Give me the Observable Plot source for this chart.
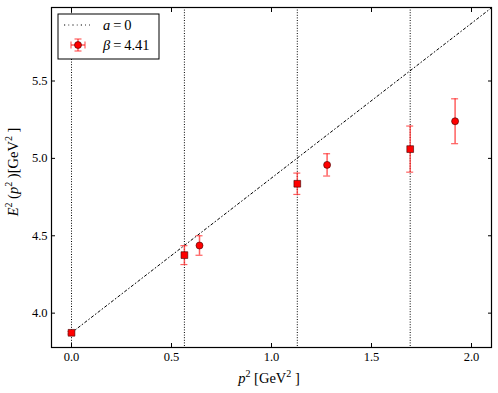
<!DOCTYPE html>
<html>
<head>
<meta charset="utf-8">
<script src="https://cdn.jsdelivr.net/npm/d3@7"></script>
<script src="https://cdn.jsdelivr.net/npm/@observablehq/plot@0.6"></script>
<style>
  html, body { margin: 0; padding: 0; background: #fff; }
  #chart { position: relative; width: 498px; height: 393px; }
</style>
</head>
<body>
<div id="chart"></div>
<script>
// Square markers (on the dotted vertical lines)
const squareP2 = [0, 0.5645, 1.129, 1.6935];
const squareE2 = [3.873, 4.375, 4.836, 5.060];
const squareErr = [0.008, 0.061, 0.069, 0.149];
// Circle markers
const circleP2 = [0.640, 1.278, 1.918];
const circleE2 = [4.437, 4.958, 5.240];
const circleErr = [0.063, 0.072, 0.145];
// Vertical dotted lines
const vLines = [0, 0.5645, 1.129, 1.6935];
// a=0 line (dash-dot) endpoints
const lineP2 = [0, 2.1];
const lineE2 = [3.873, 5.973];
// Ticks
const xTicks = [0.0, 0.5, 1.0, 1.5, 2.0];
const yTicks = [4.0, 4.5, 5.0, 5.5];

const squares = squareP2.map((x, i) => ({x, y: squareE2[i], e: squareErr[i]}));
const circles = circleP2.map((x, i) => ({x, y: circleE2[i], e: circleErr[i]}));
const allPts = squares.concat(circles);
const line = lineP2.map((x, i) => ({x, y: lineE2[i]}));

// font detection
function hasFont(name) {
  const c = document.createElement("canvas").getContext("2d");
  const s = "0123456789.abcEGpV";
  c.font = "40px monospace"; const w0 = c.measureText(s).width;
  c.font = `40px '${name}', monospace`; const w1 = c.measureText(s).width;
  return Math.abs(w0 - w1) > 0.5;
}
const useLib = hasFont("Liberation Serif");
const fam = useLib ? "'Liberation Serif', 'DejaVu Serif', serif" : "'DejaVu Serif', serif";
const fs = useLib ? 12.5 : 10.5;   // tick labels
const lfs = useLib ? 14.5 : 12.5;  // axis labels & legend
const sfs = useLib ? 10 : 8.5;     // superscripts

const errColor = "#ff2a2a";
const fmt = d3.format(".1f");

const chart = Plot.plot({
  width: 498,
  height: 393,
  marginLeft: 51,
  marginRight: 7,
  marginTop: 7,
  marginBottom: 46,
  style: {fontFamily: fam, fontSize: fs + "px", color: "#000", background: "#fff"},
  x: {domain: [-0.1, 2.1], label: null},
  y: {domain: [3.778, 5.975], label: null},
  marks: [
    Plot.ruleX(vLines, {x: d => d, stroke: "#000", strokeWidth: 1, strokeDasharray: "1,1.6", clip: true}),
    Plot.line(line, {x: "x", y: "y", stroke: "#000", strokeWidth: 1, strokeDasharray: "2.4,2.6,0.8,2.6", clip: true}),
    // error bars
    Plot.ruleX(allPts, {x: "x", y1: d => d.y - d.e, y2: d => d.y + d.e, stroke: errColor, strokeOpacity: 0.75, strokeWidth: 1.5}),
    Plot.ruleY(allPts, {y: d => d.y + d.e, x1: "x", x2: "x", insetLeft: -3.5, insetRight: -3.5, stroke: errColor, strokeOpacity: 0.75, strokeWidth: 1.2}),
    Plot.ruleY(allPts, {y: d => d.y - d.e, x1: "x", x2: "x", insetLeft: -3.5, insetRight: -3.5, stroke: errColor, strokeOpacity: 0.75, strokeWidth: 1.2}),
    Plot.dot(squares, {x: "x", y: "y", symbol: "square", r: 3.8, fill: "#ff0000", stroke: "#3a0000", strokeWidth: 0.6}),
    Plot.dot(circles, {x: "x", y: "y", symbol: "circle", r: 3.5, fill: "#ff0000", stroke: "#3a0000", strokeWidth: 0.6}),
    // axes: inward ticks on all sides
    Plot.axisX(xTicks, {anchor: "bottom", tickSize: -4, text: null, label: null}),
    Plot.axisX(xTicks, {anchor: "bottom", tickSize: 0, tickPadding: 5, tickFormat: fmt, label: null}),
    Plot.axisX(xTicks, {anchor: "top", tickSize: -4, text: null, label: null}),
    Plot.axisY(yTicks, {anchor: "left", tickSize: -4, text: null, label: null}),
    Plot.axisY(yTicks, {anchor: "left", tickSize: 0, tickPadding: 4, tickFormat: fmt, label: null}),
    Plot.axisY(yTicks, {anchor: "right", tickSize: -4, text: null, label: null}),
    Plot.frame({stroke: "#000", strokeWidth: 1.2})
  ]
});

document.getElementById("chart").appendChild(chart);

const svg = d3.select(chart);

function sup(t, s) {
  t.append("tspan").attr("font-size", sfs).attr("dy", -6).text(s);
}
// y-axis label
const yl = svg.append("text")
  .attr("transform", "translate(18,172) rotate(-90)")
  .attr("text-anchor", "middle")
  .attr("font-family", fam)
  .attr("font-size", lfs)
  .attr("fill", "#000");
yl.append("tspan").attr("font-style", "italic").text("E");
sup(yl, "2");
yl.append("tspan").attr("dy", 6).text(" (");
yl.append("tspan").attr("font-style", "italic").text("p");
sup(yl, "2");
yl.append("tspan").attr("dy", 6).text(" )[GeV");
sup(yl, "2");
yl.append("tspan").attr("dy", 6).text(" ]");

// x-axis label
const xl = svg.append("text")
  .attr("x", 269)
  .attr("y", 383)
  .attr("text-anchor", "middle")
  .attr("font-family", fam)
  .attr("font-size", lfs)
  .attr("fill", "#000");
xl.append("tspan").attr("font-style", "italic").text("p");
sup(xl, "2");
xl.append("tspan").attr("dy", 6).text(" [GeV");
sup(xl, "2");
xl.append("tspan").attr("dy", 6).text(" ]");

// legend
const lg = svg.append("g").attr("text-anchor", "start");
lg.append("rect").attr("x", 58).attr("y", 14).attr("width", 101).attr("height", 45)
  .attr("fill", "#fff").attr("stroke", "#000").attr("stroke-width", 1);
lg.append("line").attr("x1", 64).attr("x2", 90).attr("y1", 25).attr("y2", 25)
  .attr("stroke", "#000").attr("stroke-width", 1).attr("stroke-dasharray", "1.2,3.2,0.8,3.2");
const t1 = lg.append("text").attr("x", 103).attr("y", 30).attr("text-anchor", "start").attr("font-family", fam).attr("font-size", lfs).attr("fill", "#000");
t1.append("tspan").attr("font-style", "italic").text("a");
t1.append("tspan").text("\u2009=\u20090");
lg.append("line").attr("x1", 78).attr("x2", 78).attr("y1", 39).attr("y2", 51)
  .attr("stroke", errColor).attr("stroke-opacity", 0.75).attr("stroke-width", 1.5);
lg.append("line").attr("x1", 71).attr("x2", 85).attr("y1", 45).attr("y2", 45)
  .attr("stroke", errColor).attr("stroke-opacity", 0.75).attr("stroke-width", 1.5);
for (const yy of [39, 51]) lg.append("line").attr("x1", 74.5).attr("x2", 81.5).attr("y1", yy).attr("y2", yy)
  .attr("stroke", errColor).attr("stroke-opacity", 0.75).attr("stroke-width", 1.2);
for (const xx of [71, 85]) lg.append("line").attr("x1", xx).attr("x2", xx).attr("y1", 41.5).attr("y2", 48.5)
  .attr("stroke", errColor).attr("stroke-opacity", 0.75).attr("stroke-width", 1.2);
lg.append("circle").attr("cx", 78).attr("cy", 45).attr("r", 3.5)
  .attr("fill", "#ff0000").attr("stroke", "#3a0000").attr("stroke-width", 0.6);
const t2 = lg.append("text").attr("x", 103).attr("y", 50).attr("text-anchor", "start").attr("font-family", fam).attr("font-size", lfs).attr("fill", "#000");
t2.append("tspan").attr("font-style", "italic").text("\u03b2");
t2.append("tspan").text("\u2009=\u20094.41");
</script>
</body>
</html>
